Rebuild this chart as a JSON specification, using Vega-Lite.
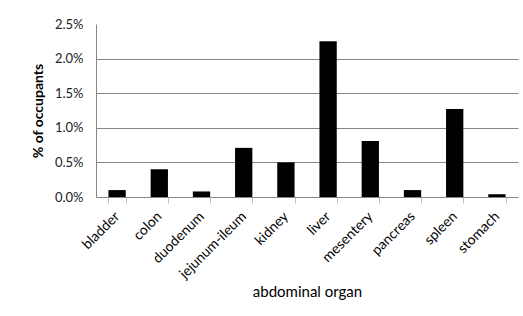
{
  "$schema": "https://vega.github.io/schema/vega-lite/v6.json",
  "width": 422,
  "height": 173,
  "autosize": {"type": "none"},
  "padding": {"left": 96, "top": 24, "right": 5, "bottom": 119},
  "background": "white",
  "config": {
    "view": {"stroke": null},
    "font": "Lato"
  },
  "data": {
    "values": [
      {"organ": "bladder", "pct": 0.001},
      {"organ": "colon", "pct": 0.004},
      {"organ": "duodenum", "pct": 0.0008},
      {"organ": "jejunum-ileum", "pct": 0.0071},
      {"organ": "kidney", "pct": 0.005},
      {"organ": "liver", "pct": 0.0225},
      {"organ": "mesentery", "pct": 0.0081},
      {"organ": "pancreas", "pct": 0.001},
      {"organ": "spleen", "pct": 0.0127},
      {"organ": "stomach", "pct": 0.0004}
    ]
  },
  "mark": {"type": "bar", "color": "black"},
  "encoding": {
    "x": {
      "field": "organ",
      "type": "nominal",
      "sort": null,
      "scale": {"paddingInner": 0.59, "paddingOuter": 0.295},
      "axis": {
        "title": "abdominal organ",
        "titleFontSize": 15,
        "titleFontWeight": "normal",
        "titleColor": "black",
        "titlePadding": 4,
        "labelAngle": -45,
        "labelAlign": "right",
        "labelBaseline": "middle",
        "labelFontSize": 14,
        "labelColor": "black",
        "labelPadding": 11,
        "tickBand": "extent",
        "tickColor": "#c0c0c0",
        "tickSize": 6,
        "domainColor": "#868686",
        "grid": false
      }
    },
    "y": {
      "field": "pct",
      "type": "quantitative",
      "scale": {"domain": [0, 0.025], "nice": false},
      "axis": {
        "title": "% of occupants",
        "titleFontSize": 14,
        "titleFontWeight": "bold",
        "titleColor": "black",
        "titlePadding": 9,
        "format": ".1%",
        "values": [0, 0.005, 0.01, 0.015, 0.02, 0.025],
        "labelFontSize": 13,
        "labelColor": "#222",
        "labelPadding": 13,
        "ticks": false,
        "domainColor": "#868686",
        "grid": true,
        "gridColor": "#868686",
        "gridOpacity": {"condition": {"test": "datum.value >= 0.025 || datum.value == 0", "value": 0}, "value": 1}
      }
    }
  }
}
